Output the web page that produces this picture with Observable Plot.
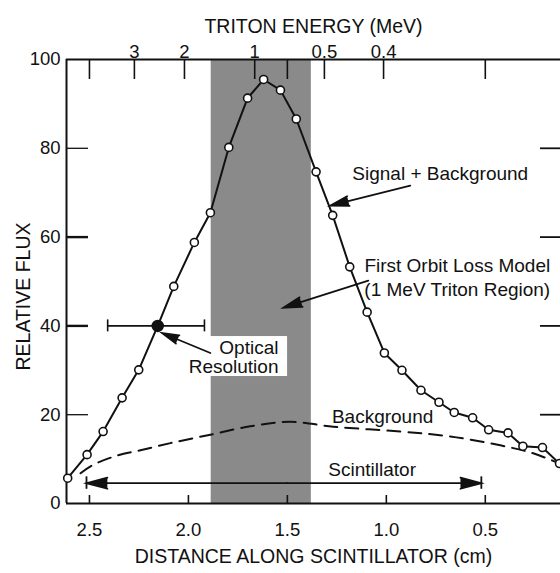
<!DOCTYPE html>
<html>
<head>
<meta charset="utf-8">
<script src="https://cdn.jsdelivr.net/npm/d3@7"></script>
<script src="https://cdn.jsdelivr.net/npm/@observablehq/plot@0.6"></script>
<style>
html,body{margin:0;padding:0;background:#fff;overflow:hidden}
#chart svg{display:block}
</style>
</head>
<body>
<div id="chart"></div>
<script>
// Signal + Background (distance along scintillator, cm; relative flux)
const signalDist = [2.61, 2.512, 2.431, 2.335, 2.251, 2.155, 2.074, 1.970, 1.889, 1.796, 1.701, 1.620, 1.535, 1.455, 1.355, 1.271, 1.185, 1.097, 1.010, 0.921, 0.825, 0.734, 0.657, 0.564, 0.483, 0.385, 0.310, 0.211, 0.125];
const signalFlux = [5.7, 11.0, 16.2, 23.8, 30.1, 40.0, 48.9, 58.8, 65.5, 80.2, 91.3, 95.5, 93.1, 86.6, 74.7, 64.9, 53.3, 43.1, 33.9, 30.0, 25.5, 22.8, 20.5, 19.3, 16.6, 15.9, 12.9, 12.6, 9.0];
const opticalIndex = 5;          // the filled point with the resolution bar
const opticalRange = [2.408, 1.919];

// Background (dashed)
const bgDist = [2.545, 2.486, 2.36, 2.242, 2.091, 1.889, 1.687, 1.485, 1.268, 0.929, 0.677, 0.424, 0.258, 0.136];
const bgFlux = [6.8, 8.6, 10.8, 12.0, 13.6, 15.5, 17.4, 18.4, 17.3, 16.2, 15.1, 13.1, 11.3, 9.2];

// 1 MeV triton region (shaded band)
const bandRange = [1.885, 1.379];

// Axes
const distTicks = [2.5, 2.0, 1.5, 1.0, 0.5];
const fluxTicks = [0, 20, 40, 60, 80, 100];
const fluxMajorInner = [40, 60];
const fluxMinorInner = [20, 80];
const energyLabels = ["3", "2", "1", "0.5", "0.4"];
const energyTickDist = [2.273, 2.020, 1.665, 1.313, 1.014];
const topPlainTicks = [2.5, 1.5, 0.5];

// Scintillator extent
const scintRange = [2.515, 0.52];

const signal = signalDist.map((d, i) => ({d, flux: signalFlux[i], i}));
const background = bgDist.map((d, i) => ({d, flux: bgFlux[i]}));
const energy = energyTickDist.map((d, i) => ({d, label: energyLabels[i]}));

const X0 = 2.616, X1 = 0.12;
const font = "'Liberation Sans', Arial, Helvetica, sans-serif";
const ink = "#111";
const arrowStyle = {stroke: ink, fill: ink, strokeWidth: 1.8, headLength: 16, headAngle: 30, strokeLinejoin: "miter", strokeMiterlimit: 4};

const plot = Plot.plot({
  width: 560,
  height: 573,
  marginLeft: 66,
  marginRight: 0,
  marginTop: 59,
  marginBottom: 70,
  style: {fontFamily: font, background: "white", color: ink, overflow: "visible"},
  x: {domain: [X0, X1]},
  y: {domain: [0, 100]},
  marks: [
    // shaded 1 MeV band
    Plot.rect([bandRange], {x1: r => r[0], x2: r => r[1], y1: 0, y2: 100, fill: "#8a8a8a"}),
    // frame
    Plot.ruleX([X0], {y1: 0, y2: 100, stroke: ink, strokeWidth: 2}),
    Plot.ruleY([0, 100], {x1: X0, x2: X1, stroke: ink, strokeWidth: 2}),
    // inward ticks
    Plot.ruleY(fluxMajorInner, {y: d => d, x1: X0, x2: X0 - 0.111, stroke: ink, strokeWidth: 2.4}),
    Plot.ruleY(fluxMinorInner, {y: d => d, x1: X0, x2: X0 - 0.111, stroke: ink, strokeWidth: 1.3}),
    Plot.ruleY(fluxMajorInner.concat(fluxMinorInner), {y: d => d, x1: X1, x2: X1 + 0.101, stroke: ink, strokeWidth: 1.8}),
    Plot.ruleX(distTicks, {x: d => d, y1: 0, y2: 1.8, stroke: ink, strokeWidth: 1.6}),
    Plot.ruleX(energy, {x: "d", y1: 100, y2: 95.5, stroke: ink, strokeWidth: 1.6}),
    Plot.ruleX(topPlainTicks, {x: d => d, y1: 100, y2: 95.5, stroke: ink, strokeWidth: 1.6}),
    // axes labels
    Plot.axisX(distTicks, {anchor: "bottom", tickSize: 0, tickPadding: 19, fontSize: 18.5, label: null, tickFormat: d3.format(".1f")}),
    Plot.axisY(fluxTicks, {anchor: "left", tickSize: 0, tickPadding: 6, fontSize: 18.5, label: null}),
    Plot.text(energy, {x: "d", text: "label", frameAnchor: "top", dy: -14.5, fontSize: 18.5, fill: ink}),
    Plot.text(["TRITON ENERGY (MeV)"], {text: d => d, frameAnchor: "top", dy: -40, fontSize: 19.5, fill: ink}),
    Plot.text(["DISTANCE ALONG SCINTILLATOR (cm)"], {text: d => d, frameAnchor: "bottom", dy: 59.5, fontSize: 19.5, fill: ink}),
    Plot.text(["RELATIVE FLUX"], {text: d => d, frameAnchor: "left", textAnchor: "middle", rotate: -90, dx: -43, dy: 15, fontSize: 19.5, fill: ink}),
    // background dashed
    Plot.line(background, {x: "d", y: "flux", curve: "catmull-rom", stroke: ink, strokeWidth: 2, strokeDasharray: "13,8"}),
    // signal line
    Plot.line(signal, {x: "d", y: "flux", stroke: ink, strokeWidth: 2}),
    // optical resolution bar
    Plot.ruleY([signalFlux[opticalIndex]], {y: d => d, x1: opticalRange[0], x2: opticalRange[1], stroke: ink, strokeWidth: 1.6}),
    Plot.ruleX(opticalRange, {x: d => d, y1: signalFlux[opticalIndex] - 1.35, y2: signalFlux[opticalIndex] + 1.35, stroke: ink, strokeWidth: 1.6}),
    // white box behind "Optical Resolution"
    Plot.rect([0], {x1: 2.015, x2: 1.499, y1: 28.6, y2: 37.6, fill: "white"}),
    // annotations
    Plot.text(["Signal + Background"], {text: d => d, x: 1.172, y: 74.3, textAnchor: "start", fontSize: 19, fill: ink}),
    Plot.text(["First Orbit Loss Model\n(1 MeV Triton Region)"], {text: d => d, x: 0.172, y: 51.2, textAnchor: "end", lineHeight: 1.3, fontSize: 19, fill: ink}),
    Plot.text(["Optical\nResolution"], {text: d => d, x: 1.545, y: 33.0, textAnchor: "end", lineHeight: 1.0, fontSize: 19, fill: ink}),
    Plot.text(["Background"], {text: d => d, x: 1.275, y: 19.6, textAnchor: "start", fontSize: 19, fill: ink}),
    Plot.text(["Scintillator"], {text: d => d, x: 1.293, y: 7.6, textAnchor: "start", fontSize: 19, fill: ink}),
    // arrows
    Plot.arrow([0], {x1: 0.879, y1: 71.6, x2: 1.283, y2: 67.1, ...arrowStyle}),
    Plot.arrow([0], {x1: 1.091, y1: 50.2, x2: 1.52, y2: 44.1, ...arrowStyle}),
    Plot.arrow([0], {x1: 1.889, y1: 33.9, x2: 2.133, y2: 38.4, ...arrowStyle}),
    // scintillator double arrow
    Plot.arrow([0], {x1: 1.5, y1: 4.58, x2: scintRange[0], y2: 4.58, ...arrowStyle, headLength: 18}),
    Plot.arrow([0], {x1: 1.5, y1: 4.58, x2: scintRange[1], y2: 4.58, ...arrowStyle, headLength: 18}),
    Plot.ruleX(scintRange, {x: d => d, y1: 3.2, y2: 6.0, stroke: ink, strokeWidth: 1.8}),
    // points
    Plot.dot(signal.filter(p => p.i !== opticalIndex), {x: "d", y: "flux", r: 4, fill: "white", stroke: ink, strokeWidth: 1.6}),
    Plot.dot(signal.filter(p => p.i === opticalIndex), {x: "d", y: "flux", r: 5.5, fill: ink, stroke: ink})
  ]
});
document.getElementById("chart").append(plot);
</script>
</body>
</html>
